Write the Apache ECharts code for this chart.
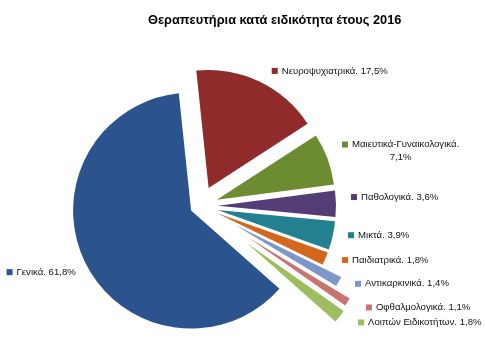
<!DOCTYPE html>
<html><head><meta charset="utf-8">
<script src="https://cdn.jsdelivr.net/npm/echarts@6/dist/echarts.min.js"></script>
<style>html,body{margin:0;padding:0;background:#fff}#c{width:485px;height:358px}</style>
</head><body><div id="c"></div>
<script>
const titleText = 'Θεραπευτήρια κατά ειδικότητα έτους 2016';
const categories = ['Νευροψυχιατρικά', 'Μαιευτικά-Γυναικολογικά', 'Παθολογικά', 'Μικτά', 'Παιδιατρικά', 'Αντικαρκινικά', 'Οφθαλμολογικά', 'Λοιπών Ειδικοτήτων', 'Γενικά'];
const values = [17.5, 7.1, 3.6, 3.9, 1.8, 1.4, 1.1, 1.8, 61.8];
const colors = ['#8f2b2b', '#6d8b30', '#543c75', '#23808f', '#d4661d', '#7d97c8', '#c77574', '#9dbd5f', '#2b548e'];
// styling: explosion per slice, label tweaks
const explode = [20, 18, 18, 18, 18, 40, 58, 60, 10];
const labelLen2 = [8, 5, 5, 5.5, 7.5, 7.5, 10, 10.5, 1.5];
const labelDy = [-1.5, -4.5, -6.5, -2.5, -2.5, -2.5, 0, 0, 3];
const wrapLabel = [false, true, false, false, false, false, false, false, false];

const FONT = 'Liberation Sans';
const fmtPct = v => v.toFixed(1).replace('.', ',') + '%';

const series = categories.map((cat, i) => ({
  type: 'pie',
  center: [200, 206],
  radius: 118,
  startAngle: 96,
  clockwise: true,
  selectedMode: 'multiple',
  selectedOffset: explode[i],
  silent: true,
  animation: false,
  avoidLabelOverlap: false,
  minShowLabelAngle: 0,
  emphasis: { disabled: true },
  labelLayout: { dy: labelDy[i], hideOverlap: false, moveOverlap: null },
  labelLine: { show: false, length: 10, length2: labelLen2[i] },
  data: categories.map((n, j) => ({
    name: n,
    value: values[j],
    selected: j === i,
    itemStyle: { color: j === i ? colors[j] : 'rgba(0,0,0,0)', borderWidth: 0 },
    label: j === i ? {
      show: true,
      position: 'outside',
      distanceToLabelLine: 0,
      overflow: 'none',
      formatter: p => wrapLabel[j]
        ? '{sq|}{gap|}{t|' + p.name + '.}\n{c|' + fmtPct(p.value) + '}'
        : '{sq|}{gap|}{t|' + p.name + '. ' + fmtPct(p.value) + '}',
      rich: {
        sq: { width: 6, height: 6, backgroundColor: colors[j] },
        gap: { width: 4 },
        t: { fontFamily: FONT, fontSize: 9.6, color: '#111', lineHeight: 12 },
        c: { fontFamily: FONT, fontSize: 9.6, color: '#111', lineHeight: 13, align: 'center' }
      }
    } : { show: false }
  }))
}));

const chart = echarts.init(document.getElementById('c'), null, { renderer: 'canvas' });
chart.setOption({
  backgroundColor: '#ffffff',
  animation: false,
  title: {
    text: titleText,
    left: 143,
    top: 9,
    textStyle: { fontFamily: FONT, fontSize: 12.8, fontWeight: 'bold', color: '#000' }
  },
  series: series
});
</script>
</body></html>
